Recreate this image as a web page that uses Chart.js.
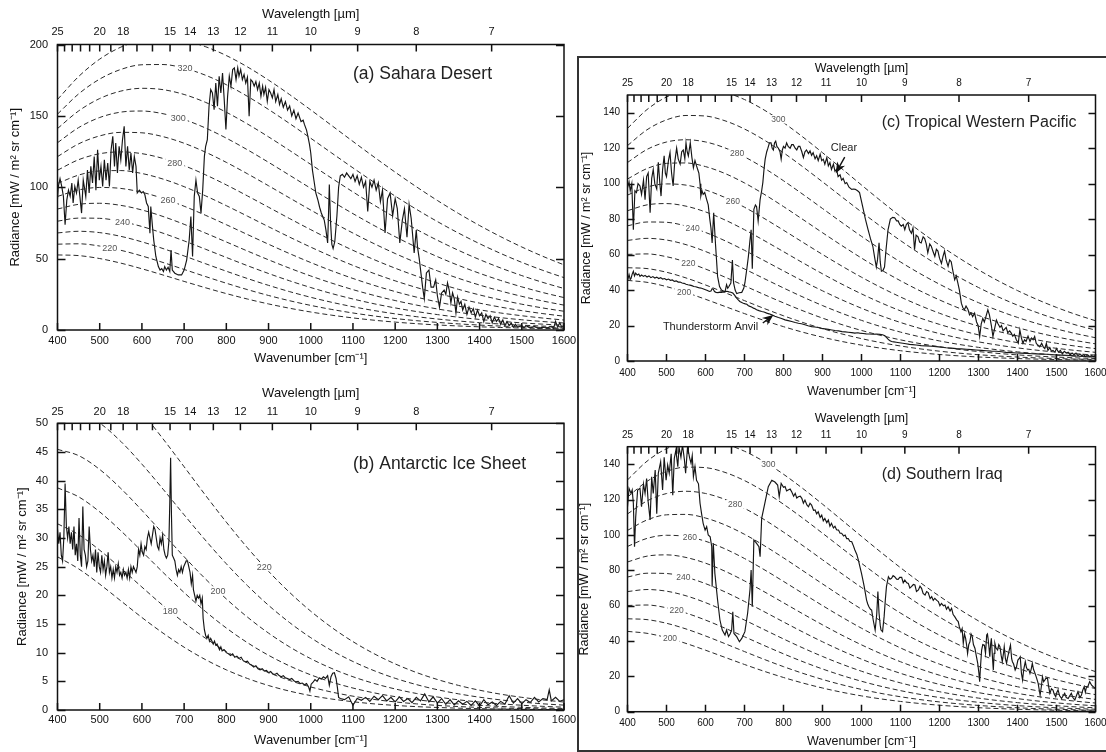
<!DOCTYPE html>
<html><head><meta charset="utf-8">
<script src="https://cdn.jsdelivr.net/npm/chart.js@4.4.1/dist/chart.umd.min.js"></script>
<style>
html,body{margin:0;padding:0;background:#fff;width:1106px;height:752px;overflow:hidden;position:relative}
canvas{position:absolute}
#box{position:absolute;left:577px;top:56px;width:600px;height:692px;border:2px solid #333;background:#fff}
</style></head><body>
<canvas id="ca" width="590" height="370" style="left:0;top:0"></canvas>
<canvas id="cb" width="590" height="382" style="left:0;top:370px"></canvas>
<div id="box"></div>
<canvas id="cc" width="545" height="344" style="left:575px;top:57px"></canvas>
<canvas id="cd" width="545" height="351" style="left:575px;top:401px"></canvas>
<script>
// ---------------- DATA ----------------
const PLANCK_WN = [400,450,500,550,600,650,700,750,800,850,900,950,1000,1050,1100,1150,1200,1250,1300,1350,1400,1450,1500,1550,1600];
const BB_170 = [26.72,24.62,21.95,19.04,16.13,13.41,10.95,8.81,7.00,5.50,4.27,3.29,2.51,1.91,1.44,1.07,0.80,0.59,0.44,0.32,0.23,0.17,0.12,0.09,0.06];
const BB_180 = [32.48,30.58,27.87,24.72,21.44,18.22,15.24,12.55,10.20,8.20,6.53,5.15,4.02,3.12,2.41,1.84,1.41,1.07,0.80,0.60,0.45,0.34,0.25,0.18,0.14];
const BB_190 = [38.74,37.18,34.55,31.26,27.66,24.00,20.48,17.22,14.30,11.74,9.54,7.68,6.13,4.86,3.83,2.99,2.33,1.80,1.39,1.06,0.81,0.62,0.47,0.35,0.27];
const BB_200 = [45.45,44.37,41.95,38.64,34.81,30.76,26.73,22.90,19.37,16.20,13.41,11.00,8.95,7.23,5.80,4.63,3.67,2.89,2.27,1.78,1.38,1.07,0.83,0.64,0.49];
const BB_210 = [52.59,52.12,50.05,46.84,42.88,38.52,34.04,29.65,25.50,21.69,18.26,15.24,12.61,10.36,8.46,6.86,5.53,4.44,3.54,2.82,2.23,1.76,1.38,1.08,0.85];
const BB_220 = [60.12,60.39,58.82,55.84,51.87,47.29,42.42,37.51,32.76,28.29,24.19,20.50,17.23,14.38,11.92,9.82,8.04,6.55,5.32,4.29,3.45,2.76,2.21,1.76,1.39];
const BB_230 = [68.00,69.16,68.22,65.61,61.75,57.05,51.88,46.51,41.18,36.06,31.27,26.87,22.91,19.39,16.30,13.62,11.31,9.35,7.69,6.30,5.14,4.18,3.38,2.73,2.20];
const BB_240 = [76.22,78.39,78.22,76.11,72.50,67.81,62.42,56.67,50.81,45.06,39.58,34.45,29.75,25.50,21.72,18.38,15.47,12.96,10.80,8.96,7.40,6.09,5.00,4.09,3.33];
const BB_250 = [84.75,88.05,88.78,87.31,84.08,79.52,74.04,67.98,61.67,55.33,49.17,43.30,37.84,32.82,28.28,24.23,20.64,17.49,14.75,12.39,10.36,8.63,7.16,5.93,4.89];
const BB_260 = [93.56,98.10,99.86,99.18,96.48,92.18,86.71,80.46,73.76,66.89,60.08,53.49,47.25,41.44,36.10,31.27,26.93,23.07,19.67,16.70,14.13,11.90,9.99,8.36,6.97];
const BB_270 = [102.63,108.53,111.44,111.68,109.63,105.73,100.41,94.07,87.09,79.76,72.35,65.06,58.05,51.42,45.25,39.59,34.44,29.81,25.68,22.03,18.82,16.02,13.58,11.48,9.67];
const BB_280 = [111.94,119.30,123.49,124.78,123.53,120.17,115.12,108.82,101.65,93.94,86.00,78.05,70.29,62.85,55.83,49.30,43.30,37.83,32.90,28.49,24.57,21.11,18.07,15.42,13.12];
const BB_290 = [121.47,130.39,135.98,138.45,138.14,135.45,130.82,124.67,117.43,109.44,101.04,92.49,84.01,75.77,67.90,60.48,53.58,47.23,41.44,36.20,31.50,27.30,23.58,20.30,17.42];
const BB_300 = [131.20,141.78,148.87,152.64,153.40,151.52,147.44,141.59,134.40,126.24,117.47,108.39,99.24,90.23,81.51,73.20,65.38,58.10,51.39,45.27,39.71,34.70,30.22,26.23,22.70];
const BB_310 = [141.13,153.45,162.15,167.35,169.31,168.38,164.99,159.57,152.55,144.33,135.30,125.76,116.01,106.27,96.72,87.52,78.77,70.54,62.87,55.80,49.32,43.44,38.12,33.34,29.07];
const BB_320 = [151.23,165.37,175.78,182.52,185.81,185.97,183.41,178.56,171.84,163.69,154.50,144.60,134.32,123.90,113.57,103.50,93.81,84.61,75.96,67.90,60.45,53.62,47.39,41.76,36.68];
const BB_330 = [161.50,177.54,189.75,198.15,202.89,204.27,202.68,198.53,192.26,184.30,175.06,164.91,154.18,143.16,132.09,121.18,110.57,100.39,90.73,81.65,73.19,65.36,58.16,51.59,45.62];

const TEMPS_A = [210,220,230,240,250,260,270,280,290,300,310,320,330];
const TEMPS_B = [170,180,190,200,210,220];
const TEMPS_CD = [200,210,220,230,240,250,260,270,280,290,300];

const WAVELENGTH_LABELED = [25,20,18,15,14,13,12,11,10,9,8,7];
const WAVELENGTH_ALL = [25,24,23,22,21,20,19,18,17,16,15,14,13,12,11,10,9,8,7];
const Y_TICKS_A = [0,50,100,150,200];
const Y_TICKS_B = [0,5,10,15,20,25,30,35,40,45,50];
const Y_TICKS_CD = [0,20,40,60,80,100,120,140];

const SAHARA_WN = [400,402,406,410,414,418,422,426,430,434,437,441,445,449,453,457,461,467,471,475,479,483,487,491,495,499,503,507,511,515,519,523,527,531,535,538,542,546,550,554,558,562,566,570,574,578,582,586,589,594,599,603,607,611,615,619,621,625,628,633,639,643,647,651,654,658,662,666,669,672,678,686,694,700,706,712,716,720,724,728,732,736,740,744,748,751,755,759,763,767,771,775,779,783,787,791,795,799,803,807,811,815,819,823,827,830,834,838,842,846,850,854,858,862,866,870,874,878,882,886,889,893,897,901,905,909,913,917,922,926,930,935,940,945,950,955,960,965,970,977,982,985,990,993,997,1000,1004,1008,1012,1017,1021,1025,1029,1032,1036,1040,1042,1044,1047,1050,1053,1057,1062,1066,1070,1075,1080,1085,1090,1095,1100,1105,1110,1115,1120,1125,1130,1135,1140,1145,1150,1155,1160,1165,1170,1176,1182,1188,1194,1200,1205,1211,1217,1222,1228,1233,1238,1245,1250,1253,1257,1261,1265,1269,1274,1280,1285,1291,1296,1300,1305,1310,1316,1320,1324,1328,1332,1336,1340,1344,1348,1352,1356,1360,1365,1370,1375,1380,1385,1390,1395,1400,1405,1410,1415,1420,1425,1430,1435,1440,1445,1450,1455,1460,1465,1470,1475,1480,1485,1490,1500,1505,1510,1520,1530,1540,1550,1560,1570,1575,1580,1585,1590,1595,1600];
const SAHARA_RAD = [92,100.6,106,100.6,93.6,73.7,91,98,93.6,103,89,100.6,96,105,93.6,81.9,105,93.6,112,96,114.6,103,121.6,98,126.3,105,114.6,100.6,119.3,105,117,100.6,126.3,135.7,114.6,131,110,128.7,119.3,133.3,142.7,114.6,128.7,112,124,110,121.6,114.6,96,98,96,97,94.7,89,86.5,67.8,86.5,72.5,63,51.5,44.4,42,43,41,44.4,42,44,41,56,42,39.8,38.6,38.6,42,49,63,79.5,51.5,93.6,105,96,93.6,81.9,98,121.6,128.7,133.3,156.7,168.4,166,154.4,173,156.7,177.8,166,180,161.4,140.4,163.7,177.8,170.8,182.5,183.6,175.4,183.6,177.8,182.5,175.4,179,173,177,149.7,175.4,174,170.8,174,168.4,173,163.7,170.8,165,170,160.2,168.4,166,162.6,168.4,160,165,158,162,156,160,154,157,150,154,148,152,146,147,144,140,136,130,124,112,104,96,91,86,82,79,77,70,61,80,102,75,60,57,62,80,100,108,109,107,110,108,106,109,104,108,102,107,100,104,83,104,100,105,98,103,90,98,68,92,96,80,92,85,61,77,85,65,88,78,54,70,58,50,40,30,22,40,42,30,30,35,24,16,26,28,25,33,28,19,26,22,12,23,18,20,14,18,11,16,12,15,9,14,10,12,6,11,8,10,5,9,6,8,4,7,3,6,3,5,2,4,2,3,1.5,3,1.5,2.5,1,2,1.5,2.5,1,6,2,5,2,3];

const ANTARCTIC_WN = [400,403,406,409,412,415,418,421,424,427,430,433,436,439,442,445,448,451,454,457,460,463,466,469,472,475,478,481,484,487,490,493,496,499,502,505,508,511,514,517,520,523,526,529,532,535,538,541,544,547,550,553,556,559,562,565,568,571,574,577,580,583,586,589,592,595,598,601,604,607,610,613,616,619,622,625,628,631,634,637,640,643,646,649,652,655,658,661,664,666,668,670,672,675,678,681,684,687,690,693,696,699,702,705,708,711,714,717,720,722,725,728,731,734,737,740,743,745,748,751,754,757,760,763,766,769,772,775,778,781,784,787,790,795,800,805,810,815,820,825,830,835,840,845,850,855,860,865,870,875,880,885,890,895,900,905,910,915,920,925,930,935,940,945,950,955,960,965,970,975,980,985,990,995,998,1001,1005,1010,1015,1020,1025,1030,1035,1040,1044,1048,1052,1056,1060,1063,1066,1070,1080,1090,1100,1110,1120,1130,1140,1150,1160,1170,1180,1190,1200,1210,1220,1230,1240,1250,1260,1270,1280,1290,1300,1310,1320,1330,1340,1350,1360,1370,1380,1390,1400,1410,1420,1430,1440,1450,1460,1470,1480,1490,1500,1510,1520,1530,1540,1550,1560,1565,1570,1580,1590,1600];
const ANTARCTIC_RAD = [31.5,29,31,27,26,30,39.5,32,30,32,29,31,28,32,27,29,26,33.5,27,25,35.5,28,27,25,26,32,28,26,27,25,28,24,27.5,25,24,27,24.5,26,23.5,25,27.5,24,25,23,24.5,23,25,24,25.5,23.5,24,23,24.5,23.5,24,23,24.5,23,25,24,25,24.5,24,25,28,27,29,27.5,27,28.5,28,30,31,30,29,30.5,32,31.5,30,28.5,28,30,29,30.5,28,27,26.5,27,29.5,36,44,34,27,26.5,26,24.5,23.5,24.5,24,25,24,25,25.5,26,26,25,24,22,23.5,21,20,19,20,19.5,20,18.5,19.5,16,14,13,12.5,13,12,12.5,12,11.5,12,11.3,11.5,11,10.5,11,10.3,10.5,10,9.8,9.5,9.8,9.2,9.4,9,9.2,8.6,8.4,8.5,8,7.8,7.5,7.7,7.2,7,7.2,6.8,6.9,6.5,6.7,6.3,6.2,6.4,6,5.8,6,5.6,5.5,5.3,5.5,5.1,4.9,5,4.6,4.7,4.4,4.6,4,3.3,4.5,4.8,5.3,5,5.6,5.4,5.8,5.5,6,4.3,5.8,6.4,6.5,5.5,4,2.2,2,1.8,2.3,0.8,2,1.7,2.2,1.5,2.4,1.8,2.5,1.6,2.2,1.4,2.3,1.5,2,1.3,2.2,1.6,2.8,1.4,2.3,1.2,2,1,1.8,0.9,1.6,1,1.5,0.8,1.6,0.7,1.8,0.9,1.4,0.8,1.5,1,2.5,1.2,2,1.1,1.8,1.3,2.2,1.4,2,1.8,3.5,1.6,2.2,1.5,1.8];

const TWP_CLEAR_WN = [400,404,407,411,415,419,423,427,432,436,441,445,449,453,458,462,466,470,475,479,483,486,490,494,497,500,505,509,513,517,521,526,530,535,539,543,547,550,553,556,559,561,565,569,573,577,580,583,586,588,591,594,598,603,607,611,614,617,621,624,626,631,636,641,646,650,654,657,660,665,669,672,676,680,686,693,698,701,706,710,714,717,720,724,728,731,735,740,744,747,750,753,757,760,764,768,771,774,777,780,783,787,791,794,797,800,804,808,812,817,821,825,830,834,838,842,847,851,855,859,864,868,872,876,881,885,889,894,898,902,906,911,915,919,923,928,932,936,940,945,949,953,958,962,968,975,980,984,990,995,1000,1003,1010,1017,1023,1029,1034,1038,1041,1045,1048,1051,1055,1059,1063,1068,1074,1080,1085,1090,1094,1098,1102,1107,1111,1115,1119,1123,1128,1132,1136,1140,1145,1149,1153,1158,1162,1166,1170,1175,1179,1183,1188,1192,1196,1200,1205,1209,1213,1217,1222,1226,1230,1235,1239,1243,1247,1251,1256,1260,1264,1268,1273,1277,1281,1285,1290,1295,1299,1303,1307,1311,1315,1319,1324,1328,1333,1337,1341,1346,1350,1355,1359,1363,1367,1371,1375,1380,1384,1388,1392,1397,1402,1406,1410,1414,1418,1422,1427,1432,1436,1440,1444,1448,1452,1457,1462,1466,1470,1474,1478,1483,1487,1491,1496,1500,1505,1510,1515,1520,1525,1530,1535,1540,1545,1550,1555,1560,1565,1570,1575,1580,1585,1590,1595,1600];
const TWP_CLEAR_RAD = [97.7,101,96,100,74,96,95,100,98.7,94,102,91,104,106,83.6,103,108,100,97,112,100,93,108,115.7,106,104,113,117.5,106,98.7,112,120,114,111,118,119,114,123,118,115.6,120,123,115,109,113,110,108,106,100,93,96,94,95,91,88,80,75,66.6,83.6,72,64.7,47.7,42,40,39.5,39,43,41,42,44,57,44,40,38,38.5,38.7,41,44,52,59,68,74,52,85.5,88,87,79,91,96,100.6,108,113.8,118,120,123,123,120,119,123,124,121,120,118,113.8,119,121,120,123,121,120,122,122,120,119,121,121,118,114.7,118,119,117,118.5,116,117.5,114,115.7,113,116.6,113,113.8,111,114.7,110,111.9,108,111,107,108,104,105,102,103,100,100.6,98,96.8,97,96.8,96,95,90,87,80,74,69,64.7,58,53,57,66.6,56,50.6,51,53,63,74,80,81,80.8,79,79,77,76,77,74,77,78,74,72,75,62.8,71,70,67,66.6,70,69,66,61,66,64.7,62,59,63,62,58,55,59,62,57,53.4,57,56,50,45.8,48,44,40,32.6,30,28.9,31,29,26,27,25,27,22,20,13.8,21,24,22,25,28.9,26,20,13.8,18,23,21,19,20,17,18,19,16,17,15.7,14,15,12,10,17.5,13,10,12,11,14,11,13,12,13.8,10,9,8,10,8,7,10,6,7.5,5.5,6,5,7,5,6,4,5.5,4.5,5,3.5,4.5,3.5,4.5,3,4,3,3.5,2.5,3.5,2.5,3,2.5,3];

const TWP_ANVIL_WN = [400,402,404,407,409,412,415,418,421,425,429,432,436,441,445,450,455,460,465,470,475,480,485,490,495,500,505,510,515,520,525,530,535,540,545,550,555,560,565,570,575,580,585,590,595,600,605,610,614,617,620,623,627,632,637,641,646,650,655,660,665,670,675,680,684,688,693,697,702,706,710,714,718,723,727,731,737,744,750,757,763,770,778,787,795,804,812,821,830,838,846,855,863,872,880,889,897,906,915,924,932,941,950,958,966,975,983,990,995,1004,1012,1020,1029,1038,1047,1054,1060,1064,1068,1072,1077,1083,1089,1097,1106,1114,1123,1131,1140,1153,1166,1179,1192,1204,1217,1230,1243,1256,1269,1282,1294,1307,1320,1333,1346,1359,1371,1384,1397,1410,1423,1436,1449,1462,1474,1487,1500,1513,1525,1538,1551,1563,1576,1588,1600];
const TWP_ANVIL_RAD = [45,47,48.7,46,46.5,49,50.6,48,49.6,48.5,49,47.7,48.5,47.7,48.3,47.4,48,47,47.6,46.8,47.3,46.5,47,46.2,46.5,45.8,46.2,45.5,45.7,44.9,45.2,44.5,44.5,44,43.8,43.3,43,42.8,42.5,42,41.9,41.5,41.2,41,40.6,40.2,39.8,39.2,39.5,40.8,40.5,39.2,38.7,38.6,38.8,38.7,39,39.2,39.3,39,38.8,38.3,37,35.5,34.5,33.6,33,32.6,32.2,32,31.2,30.8,30.5,29.8,29.5,28.9,28.4,27.9,27.6,27,26.6,26,25.2,24.5,24,23.2,22.8,22.3,21.7,21.3,21,20.4,19.9,19.4,19.2,18.9,18.4,18.1,17.8,17.5,17.2,17,16.6,16.4,16.2,16,15.7,15.9,15.7,15.5,15.3,15.2,15.1,15.2,15,14.8,14.2,13.3,12.3,11.6,11,10.8,10.6,10.3,10,9.7,9.4,9.2,9,8.7,8.5,8.3,8.1,7.8,7.5,7.3,7,6.8,6.6,6.4,6.2,6,5.8,5.6,5.5,5.2,4.9,4.7,4.5,4.4,4.3,4.1,4,3.9,3.8,3.6,3.4,3.3,3.2,3,2.8,2.7,2.5,2.4,2.3];

const IRAQ_WN = [400,404,409,412,415,418,421,426,432,436,441,445,449,453,458,462,466,471,475,479,485,490,494,499,503,507,512,516,520,524,529,532,537,541,546,549,554,559,563,566,569,573,577,582,586,590,594,599,603,607,612,616,617,620,624,631,637,643,650,654,659,663,667,670,673,680,687,693,701,708,714,717,720,724,731,737,740,744,753,761,770,778,785,789,794,800,804,808,812,817,821,826,830,834,838,843,847,851,855,860,864,868,872,877,881,885,889,894,898,902,906,911,915,919,923,928,932,936,941,945,949,954,958,962,966,970,975,979,983,988,992,996,1000,1004,1007,1010,1013,1016,1019,1023,1026,1030,1035,1039,1042,1045,1048,1050,1054,1058,1061,1064,1069,1073,1077,1081,1085,1090,1094,1098,1103,1107,1111,1116,1120,1124,1128,1133,1137,1141,1146,1150,1154,1158,1163,1167,1171,1176,1180,1184,1188,1193,1197,1201,1205,1210,1214,1218,1222,1227,1231,1235,1239,1244,1248,1251,1255,1258,1261,1264,1267,1270,1272,1275,1278,1281,1284,1287,1291,1294,1298,1301,1303,1305,1308,1311,1315,1318,1321,1323,1325,1327,1329,1331,1333,1336,1338,1340,1342,1345,1349,1352,1355,1358,1361,1364,1366,1369,1372,1374,1376,1379,1382,1385,1387,1390,1394,1397,1401,1404,1407,1410,1413,1416,1420,1423,1426,1429,1432,1435,1438,1441,1445,1449,1453,1456,1458,1461,1464,1467,1470,1473,1477,1480,1483,1487,1491,1494,1498,1501,1504,1508,1513,1517,1521,1525,1530,1534,1538,1542,1547,1551,1555,1560,1564,1567,1571,1574,1577,1580,1585,1590,1595,1600];
const IRAQ_RAD = [116,126.4,123.6,125.5,118,93.4,110,125.5,126.4,116,129,123.6,132,118.9,108.5,133,123.6,136.8,112,135,141.5,125.5,144,131,139.6,135,146,122.6,143.4,148,138.7,150,144,151,142.5,135,150,144,140.6,145,133,138.7,131,129,118,112,106.6,102.8,104.7,100,99,93.4,70.8,95.3,78.3,63.2,51.9,46.2,43.4,46.2,42.5,44,46.2,56.6,44.3,42.5,39.6,41.5,45.3,55.7,68.9,80.2,59.4,97.2,95.3,93.4,87.7,109.4,118.9,127.4,131,130,128.3,121.7,129.2,127,127.4,125,125.5,126,124.5,122,123.6,121,121.7,122,120.8,118,119.8,117,116,118,117,114,114.2,112,113.2,110,111.3,108,109.4,107,108.5,105,106.6,104,105,103,102.8,101,101,99.5,100,98,98,96.5,96.2,94,91.5,89,85.8,82,78.3,74,70.8,67,63.2,61,59.4,58,57.5,51.9,46.2,55,68,55.7,49,46.2,45.3,53.8,63,70.8,76.4,75,75.5,77,76.4,75,74.9,76,76,73,74.5,73,72.6,70,70.8,72,71.7,68,68.9,71,69.8,67,66,68,67.4,64,65.1,63,64.2,63,62.3,60,61.3,60,60.4,58,59.4,57,58.5,55,53.8,52,51,48,45.3,47,38.7,44,41.5,37,33,38,39.6,44,42.5,38,35.8,32,27.4,22,17,25,34.9,38,37.7,33,43.4,44,40.6,36,31.1,38,41.5,30,23.6,33,38.7,36,34.9,38,36.8,32,28.3,33,36.8,30,27.4,30,32,35,37.7,30,28.3,27,23.6,25,29.2,30,31.1,22,17.9,24,28.3,25,23.6,24,21.7,24,27.4,24,21.7,19,16,12,9.4,14,19.8,17,17.9,19,18.9,14,10.4,13,12.3,10,8.5,11,12.3,9,7.5,9,10.4,8,7.5,9,10.4,8,6.6,9,11.3,8,9.4,12,14.2,11,14.2,14,17,15,14,13.2];

// curve labels: [temperature, wavenumber, radiance]
const CURVE_LABELS_A = [[320,702,183.3],[300,686,148.7],[280,678,117.3],[260,662,90.9],[240,554,75.8],[220,524,57.4]];
const CURVE_LABELS_B = [[220,890,25.0],[200,780,20.8],[180,667,17.2]];
const CURVE_LABELS_C = [[300,787,136.3],[280,681,117.0],[260,670,90.0],[240,567,74.9],[220,556,55.4],[200,545,39.0]];
const CURVE_LABELS_D = [[300,761,140.0],[280,676,117.5],[260,560,98.6],[240,543,76.4],[220,526,57.3],[200,509,41.4]];

// ---------------- RENDERING ----------------
const FONT = '"Liberation Sans", Arial, Helvetica, sans-serif';
const BB = {170:BB_170,180:BB_180,190:BB_190,200:BB_200,210:BB_210,220:BB_220,230:BB_230,240:BB_240,250:BB_250,260:BB_260,270:BB_270,280:BB_280,290:BB_290,300:BB_300,310:BB_310,320:BB_320,330:BB_330};

function pts(wn, vals){ return wn.map((w,i)=>({x:w, y:vals[i]})); }
function curves(temps){
  return temps.map(t=>({data:pts(PLANCK_WN, BB[t]), xAxisID:'x', yAxisID:'y', borderColor:'#2a2a2a', borderWidth:1,
    borderDash:[5,3], pointRadius:0, cubicInterpolationMode:'monotone', fill:false}));
}
function spectrum(wn, vals){
  return {data:pts(wn, vals), xAxisID:'x', yAxisID:'y', borderColor:'#151515', borderWidth:1.15, pointRadius:0, tension:0, fill:false};
}

function arrow(ctx, x1, y1, x2, y2, head, w){
  const a = Math.atan2(y2-y1, x2-x1), c = Math.cos(a), s = Math.sin(a);
  ctx.beginPath(); ctx.moveTo(x1,y1); ctx.lineTo(x2 - c*head*0.6, y2 - s*head*0.6); ctx.stroke();
  ctx.beginPath();
  ctx.moveTo(x2,y2);
  ctx.lineTo(x2 - c*head + s*w/2, y2 - s*head - c*w/2);
  ctx.lineTo(x2 - c*head*0.7, y2 - s*head*0.7);
  ctx.lineTo(x2 - c*head - s*w/2, y2 - s*head + c*w/2);
  ctx.closePath(); ctx.fill();
}

const panelPlugin = {
  id:'panel',
  afterDatasetsDraw(chart, args, o){
    const {ctx, chartArea:ca, scales} = chart;
    const xs = scales.x, ys = scales.y, xt = scales.xTop;
    ctx.save();
    ctx.font = o.curveFont + 'px ' + FONT;
    ctx.textAlign = 'center'; ctx.textBaseline = 'middle';
    for (const [t,w,v] of o.curveLabels){
      const px = xs.getPixelForValue(w), py = ys.getPixelForValue(v);
      const tw = ctx.measureText(String(t)).width;
      ctx.fillStyle = '#fff';
      ctx.fillRect(px - tw/2 - 2, py - o.curveFont/2, tw + 4, o.curveFont);
      ctx.fillStyle = '#555';
      ctx.fillText(String(t), px, py + 0.5);
    }
    ctx.font = o.nameFont + 'px ' + FONT;
    ctx.textAlign = 'left'; ctx.fillStyle = '#222';
    ctx.fillText(o.name[0], xs.getPixelForValue(o.name[1]), ys.getPixelForValue(o.name[2]));
    if (o.notes){
      ctx.font = '11px ' + FONT; ctx.textAlign = 'center';
      ctx.strokeStyle = '#111'; ctx.lineWidth = 1.4;
      for (const n of o.notes){
        ctx.fillStyle = '#222';
        ctx.fillText(n.text, xs.getPixelForValue(n.tx), ys.getPixelForValue(n.ty));
        ctx.fillStyle = '#111';
        arrow(ctx, xs.getPixelForValue(n.ax), ys.getPixelForValue(n.ay), xs.getPixelForValue(n.bx), ys.getPixelForValue(n.by), 11, 9);
      }
    }
    ctx.strokeStyle = '#111'; ctx.lineWidth = 1.5;
    ctx.strokeRect(ca.left, ca.top, ca.right - ca.left, ca.bottom - ca.top);
    ctx.beginPath();
    for (const t of ys.ticks){
      const py = Math.round(ys.getPixelForValue(t.value)) + 0.5;
      ctx.moveTo(ca.left, py); ctx.lineTo(ca.left + o.yTickLen, py);
      ctx.moveTo(ca.right, py); ctx.lineTo(ca.right - o.yTickLen, py);
    }
    for (const t of xs.ticks){
      const px = xs.getPixelForValue(t.value);
      ctx.moveTo(px, ca.bottom); ctx.lineTo(px, ca.bottom - o.xTickLen);
    }
    for (const l of WAVELENGTH_ALL){
      const px = xt.getPixelForValue(1e4 / l);
      ctx.moveTo(px, ca.top); ctx.lineTo(px, ca.top + o.xTickLen);
    }
    ctx.stroke();
    ctx.restore();
  }
};

function makeChart(id, datasets, c){
  const tickFont = {size:c.tickSize, family:FONT};
  const titleFont = {size:c.titleSize, family:FONT};
  return new Chart(document.getElementById(id), {
    type:'line',
    data:{datasets},
    options:{
      responsive:false, animation:false, devicePixelRatio:1, events:[],
      layout:{padding:{left:0, right:c.padRight, top:0, bottom:0}},
      plugins:{legend:{display:false}, tooltip:{enabled:false}, panel:c.panel},
      scales:{
        x:{type:'linear', position:'bottom', min:400, max:1600,
          afterFit:s=>{s.height = c.bottomH;},
          grid:{display:false, drawTicks:false}, border:{display:false},
          ticks:{stepSize:100, autoSkip:false, maxRotation:0, minRotation:0, padding:c.xPad, color:'#111', font:tickFont,
            callback:v=>String(v)},
          title:{display:true, text:'Wavenumber [cm\u207B\u00B9]', color:'#111', font:titleFont, padding:{top:0, bottom:c.xTitlePad}}},
        xTop:{type:'linear', position:'top', min:400, max:1600,
          afterFit:s=>{s.height = c.topH;},
          afterBuildTicks:s=>{s.ticks = WAVELENGTH_LABELED.map(l=>({value:1e4/l}));},
          grid:{display:false, drawTicks:false}, border:{display:false},
          ticks:{autoSkip:false, maxRotation:0, minRotation:0, padding:c.topPad, color:'#111', font:tickFont,
            callback:v=>String(Math.round(1e4/v))},
          title:{display:true, text:'Wavelength [\u00B5m]', color:'#111', font:titleFont, padding:{top:c.topTitlePad, bottom:0}}},
        y:{type:'linear', position:'left', min:0, max:c.yMax,
          afterFit:s=>{s.width = c.leftW;},
          afterBuildTicks:s=>{s.ticks = c.yTicks.map(v=>({value:v}));},
          grid:{display:false, drawTicks:false}, border:{display:false},
          ticks:{padding:c.yPad, color:'#111', font:tickFont, callback:v=>String(v)},
          title:{display:true, text:'Radiance [mW / m\u00B2 sr cm\u207B\u00B9]', color:'#111', font:titleFont, padding:{top:c.yTitlePad, bottom:0}}}
      }
    },
    plugins:[panelPlugin]
  });
}

makeChart('ca', [...curves(TEMPS_A), spectrum(SAHARA_WN, SAHARA_RAD)], {
  padRight:26, leftW:57.5, topH:44.5, bottomH:40, yMax:200, yTicks:Y_TICKS_A,
  tickSize:11, titleSize:13, xPad:4.4, xTitlePad:4.2, topPad:6.2, topTitlePad:6.2, yPad:9.5, yTitlePad:7.2,
  panel:{curveLabels:CURVE_LABELS_A, curveFont:9, name:['(a) Sahara Desert',1100,179.4], nameFont:17.5, yTickLen:8, xTickLen:7}
});
makeChart('cb', [...curves(TEMPS_B), spectrum(ANTARCTIC_WN, ANTARCTIC_RAD)], {
  padRight:26, leftW:57.5, topH:53.3, bottomH:42, yMax:50, yTicks:Y_TICKS_B,
  tickSize:11, titleSize:13, xPad:3.4, xTitlePad:4.2, topPad:5, topTitlePad:15.5, yPad:9.5, yTitlePad:15,
  panel:{curveLabels:CURVE_LABELS_B, curveFont:9, name:['(b) Antarctic Ice Sheet',1100,42.9], nameFont:17.5, yTickLen:8, xTickLen:7}
});
makeChart('cc', [...curves(TEMPS_CD), spectrum(TWP_ANVIL_WN, TWP_ANVIL_RAD), spectrum(TWP_CLEAR_WN, TWP_CLEAR_RAD)], {
  padRight:24.5, leftW:52.5, topH:38, bottomH:40, yMax:150, yTicks:Y_TICKS_CD,
  tickSize:10, titleSize:12.5, xPad:6, xTitlePad:1.8, topPad:5.7, topTitlePad:3.8, yPad:7.5, yTitlePad:4.5,
  panel:{curveLabels:CURVE_LABELS_C, curveFont:8.5, name:['(c) Tropical Western Pacific',1052,134.4], nameFont:16, yTickLen:7, xTickLen:7,
    notes:[{text:'Clear', tx:955, ty:120, ax:957, ay:115, bx:934, by:105.9},
           {text:'Thunderstorm Anvil', tx:613, ty:19, ax:747, ay:21.4, bx:774, by:26}]}
});
makeChart('cd', [...curves(TEMPS_CD), spectrum(IRAQ_WN, IRAQ_RAD)], {
  padRight:24.5, leftW:52.5, topH:45.7, bottomH:40.3, yMax:150, yTicks:Y_TICKS_CD,
  tickSize:10, titleSize:12.5, xPad:5.3, xTitlePad:2.8, topPad:5.7, topTitlePad:9.8, yPad:7.5, yTitlePad:2.5,
  panel:{curveLabels:CURVE_LABELS_D, curveFont:8.5, name:['(d) Southern Iraq',1052,134], nameFont:16, yTickLen:7, xTickLen:7}
});
</script>
</body></html>
